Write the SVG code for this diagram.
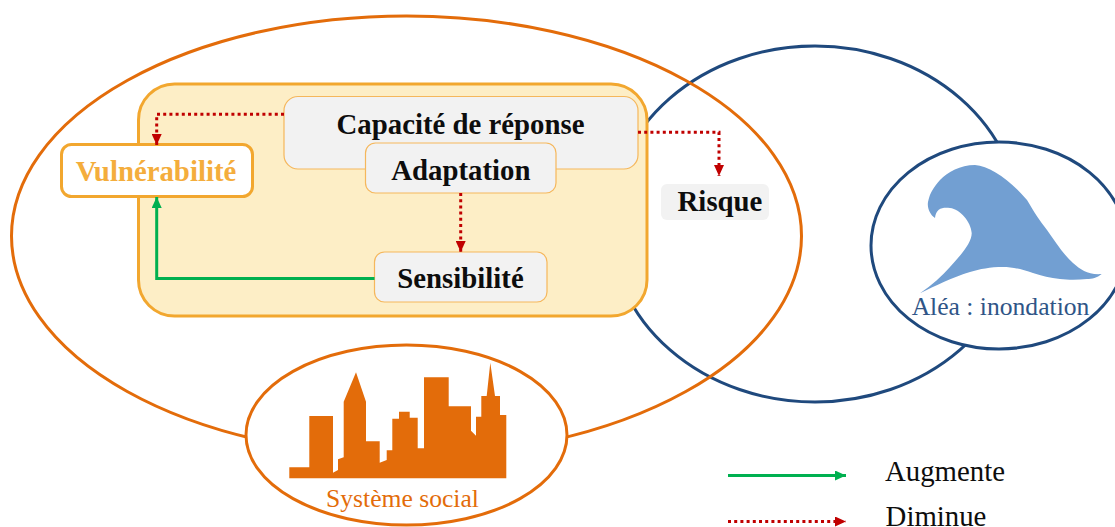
<svg xmlns="http://www.w3.org/2000/svg" width="1115" height="527" viewBox="0 0 1115 527">
<style>
text{font-family:"Liberation Serif","Times New Roman",serif;text-anchor:middle}
.b{font-weight:bold;font-size:28.8px;fill:#0d0d0d}
.n{fill:#f2f2f2;stroke:#f5b75c;stroke-width:1.2}
.g{fill:none;stroke:#00b050;stroke-width:3}
.r{fill:none;stroke:#c00000;stroke-width:3;stroke-dasharray:3 3.2}
.l{font-size:25.6px}
.t{font-size:28.8px;fill:#0d0d0d}
</style>
<defs>
<marker id="ag" markerUnits="userSpaceOnUse" markerWidth="11" markerHeight="10" refX="11" refY="5" orient="auto"><path d="M0 0L11 5L0 10Z" fill="#00b050"/></marker>
<marker id="ar" markerUnits="userSpaceOnUse" markerWidth="11" markerHeight="10" refX="11" refY="5" orient="auto"><path d="M0 0L11 5L0 10Z" fill="#c00000"/></marker>
</defs>
<g id="alea-zone"><ellipse cx="815" cy="224" rx="205" ry="178" fill="none" stroke="#1f497d" stroke-width="3"/></g>
<g id="systeme-zone"><ellipse cx="406.5" cy="236" rx="395" ry="220" fill="none" stroke="#e36c0a" stroke-width="3"/></g>
<g id="cadre"><rect x="138.500" y="84" width="508.500" height="232" rx="36" fill="#fdeec6" stroke="#f2a72f" stroke-width="3"/></g>
<g id="capacite"><rect class="n" x="284" y="96.500" width="354" height="72.500" rx="14"/><text class="b" x="460.500" y="134">Capacité de réponse</text></g>
<g id="adaptation"><rect class="n" x="365.500" y="143" width="190.500" height="50" rx="10"/><text class="b" x="460.800" y="180">Adaptation</text></g>
<g id="sensibilite"><rect class="n" x="374.500" y="252" width="172.500" height="50" rx="10"/><text class="b" x="460.500" y="288">Sensibilité</text></g>
<g id="vulnerabilite"><rect x="61.500" y="144.500" width="191" height="52" rx="10" fill="#fff" stroke="#f2a72f" stroke-width="3"/><text class="b" x="156" y="181" style="fill:#f4ad3c">Vulnérabilité</text></g>
<g id="risque"><rect x="661" y="184" width="108" height="36" rx="6" fill="#f2f2f2"/><text class="b" x="720" y="211">Risque</text></g>
<g id="alea"><ellipse cx="999" cy="245.500" rx="128" ry="103.500" fill="#fff" stroke="#1f497d" stroke-width="3"/>
<path fill="#729fd2" d="M920 293.300C932 285 942 276 950 267C960 256 972 243 971.700 233C971 222 960 209 950 208C943 207 936 208 935 218C930 215 927 208 928 202C930 192 934 187 940 180C948 172 960 165 975 165C990 166 1010 180 1027 200C1034 212 1040 221 1047 230C1056 243 1064 255 1073 263C1081 270 1088 275 1101.700 274C1097 278 1092 279 1087 279C1078 280 1068 280 1060 279C1050 278 1042 276 1033 273C1022 269 1012 267 1003 267C990 267 980 269 970 272C953 277 935 286 920 293.300Z"/>
<text class="l" x="1000.500" y="315" fill="#2f5587">Aléa : inondation</text></g>
<g id="social"><ellipse cx="406.500" cy="435" rx="160.500" ry="90" fill="#fff" stroke="#e36c0a" stroke-width="3"/>
<path fill="#e36c0a" d="M289.300 478.300V467.300H309.300V416H333V472.700L338 470V459.300L343.700 457.300V401.700L356 372.300L366 401.700V441.300H379.700V462.700L386.700 460V450.300H392.300V418.700H399V411.700H409.700V417.700H417.700V448.300H424V377.300H448.700V406.300H471V430.700L476 435.700V416.700H481.300V396H486.700L490.300 362.700L495 396H500V415H506.300V478.300Z"/>
<text class="l" x="402.500" y="507" fill="#e36c0a">Système social</text></g>
<g id="connectors">
<path class="r" d="M284 114.300H156.700V145" marker-end="url(#ar)"/>
<path class="r" d="M460.700 193V252" marker-end="url(#ar)"/>
<path class="r" d="M638 132.300H719V176" marker-end="url(#ar)"/>
<path class="g" d="M374.500 278.500H156.700V197" marker-end="url(#ag)"/>
</g>
<g id="legende">
<path class="g" d="M728 475.500H846" marker-end="url(#ag)"/>
<path class="r" d="M728 521.500H846" marker-end="url(#ar)"/>
<text class="t" x="945" y="481">Augmente</text>
<text class="t" x="936" y="526">Diminue</text>
</g>
</svg>
